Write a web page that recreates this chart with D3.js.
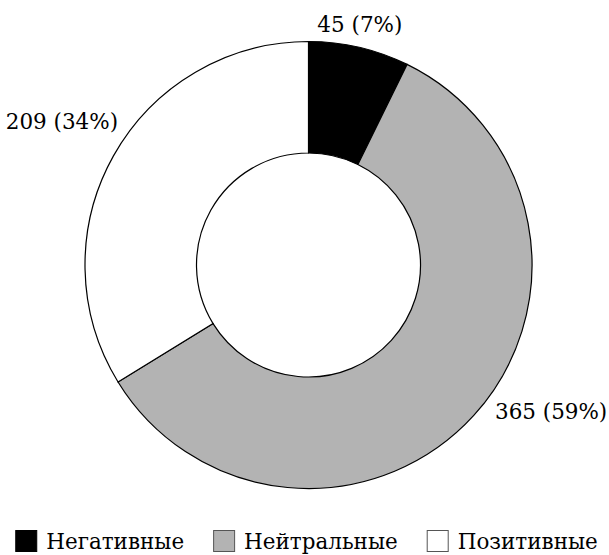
<!DOCTYPE html>
<html>
<head>
<meta charset="utf-8">
<script src="https://cdn.jsdelivr.net/npm/d3@7"></script>
<style>
  body { margin: 0; background: #fff; }
</style>
</head>
<body>
<svg id="chart" width="609" height="555"></svg>
<script>
var categories = ["Негативные", "Нейтральные", "Позитивные"];
var counts = [45, 365, 209];
var colors = ["#000000", "#b3b3b3", "#ffffff"];

var width = 609, height = 555;
var cx = 308.5, cy = 265;
var outerR = 223.5, innerR = 112;
var total = d3.sum(counts);
var formatPerc = d3.format(".0%");
var fontFamily = "'DejaVu Serif', serif";

var svg = d3.select("#chart");

// pick a font size so "45 (7%)" comes out about 85px wide
var probe = svg.append("text").attr("font-family", fontFamily).attr("font-size", 26).text("45 (7%)");
var fontSize = Math.min(26, 26 * 85 / probe.node().getComputedTextLength());
probe.remove();

var g = svg.append("g").attr("transform", "translate(" + cx + "," + cy + ")");

var pieData = counts.map(function(c, i){
  return { key: categories[i], y: c, color: colors[i] };
});

var pie = d3.pie().sort(null).value(function(d) { return d.y; });
var arc = d3.arc().innerRadius(innerR).outerRadius(outerR);
var labelArc = d3.arc().innerRadius(240).outerRadius(240);

var slices = pie(pieData);

g.selectAll("path.slice")
  .data(slices)
  .enter().append("path")
  .attr("class", "slice")
  .attr("d", arc)
  .attr("fill", function(d) { return d.data.color; })
  .attr("stroke", "#000")
  .attr("stroke-width", 1.2);

// label placement tweaks (mimic the original's best-fit layout)
var labelAnchor = ["middle", "start", "end"];
var labelShift = [[-3, 1], [9, -8], [19, -19]];

g.selectAll("text.label")
  .data(slices)
  .enter().append("text")
  .attr("class", "label")
  .attr("font-family", fontFamily)
  .attr("font-size", fontSize)
  .attr("x", function(d, i) { return labelArc.centroid(d)[0] + labelShift[i][0]; })
  .attr("y", function(d, i) { return labelArc.centroid(d)[1] + labelShift[i][1]; })
  .attr("text-anchor", function(d, i) { return labelAnchor[i]; })
  .text(function(d) { return d.data.y + " (" + formatPerc(d.data.y / total) + ")"; });

// legend
var box = 22, boxGap = 9, itemGap = 29;
var legend = svg.append("g");
var x = 0;
pieData.forEach(function(d){
  var item = legend.append("g").attr("transform", "translate(" + x + ",0)");
  item.append("rect")
    .attr("x", 0.5).attr("y", 0.5)
    .attr("width", box - 1).attr("height", box - 1)
    .attr("fill", d.color)
    .attr("stroke", d.color === "#000000" ? "#000" : "#555")
    .attr("stroke-width", 1);
  var t = item.append("text")
    .attr("font-family", fontFamily)
    .attr("font-size", fontSize)
    .attr("x", box + boxGap)
    .attr("y", 19)
    .text(d.key);
  x += box + boxGap + t.node().getComputedTextLength() + itemGap;
});
var legendWidth = x - itemGap;
legend.attr("transform", "translate(" + ((width - legendWidth) / 2 + 2) + ",530)");
</script>
</body>
</html>
